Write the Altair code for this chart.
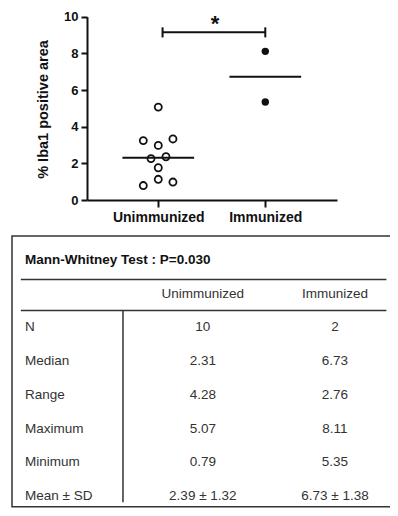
import altair as alt
import pandas as pd

# ---------------- data ----------------
groups = ["Unimmunized", "Immunized"]
unimm_values = [5.07, 3.24, 2.98, 3.33, 2.26, 2.36, 1.76, 1.13, 0.79, 0.98]
unimm_offsets = [0.0, -0.14, 0.0, 0.137, -0.068, 0.072, 0.0, 0.0, -0.14, 0.137]
imm_values = [8.11, 5.35]
imm_offsets = [0.0, 0.0]
medians = [2.31, 6.73]
y_ticks = [0, 2, 4, 6, 8, 10]
y_title = "% Iba1 positive area"
sig_label = "*"
sig_level = 9.15

test_title = "Mann-Whitney Test : P=0.030"
row_labels = ["N", "Median", "Range", "Maximum", "Minimum", "Mean ± SD"]
unimm_stats = ["10", "2.31", "4.28", "5.07", "0.79", "2.39 ± 1.32"]
imm_stats = ["2", "6.73", "2.76", "8.11", "5.35", "6.73 ± 1.38"]

FONT = "Liberation Sans"
W, H = 382, 500

# ---------------- scatter part ----------------
pts = pd.DataFrame(
    [{"group": groups[0], "xpos": 1 + o, "value": v} for v, o in zip(unimm_values, unimm_offsets)]
    + [{"group": groups[1], "xpos": 2 + o, "value": v} for v, o in zip(imm_values, imm_offsets)]
)
med = pd.DataFrame({"group": groups, "x1": [1 - 0.335, 2 - 0.335],
                    "x2": [1 + 0.335, 2 + 0.335], "value": medians})
bracket = pd.DataFrame({"x1": [1.04], "x2": [2.0], "value": [sig_level]})
bracket_ends = pd.DataFrame({"xpos": [1.04, 2.0], "y1": [sig_level - 0.28] * 2,
                             "y2": [sig_level + 0.27] * 2})
star = pd.DataFrame({"xpos": [1.53], "value": [sig_level], "label": [sig_label]})

X0, X1 = 79, 329          # plot-area pixel extent of the dot plot
Y0, Y1 = 192, 8.7
xscale = alt.Scale(domain=[0.334, 2.67], range=[X0, X1], nice=False, zero=False)
yscale = alt.Scale(domain=[0, 10], range=[Y0, Y1], nice=False, zero=False)

label_expr = f"datum.value == 1 ? '{groups[0]}' : (datum.value == 2 ? '{groups[1]}' : '')"

x_axis = alt.Axis(values=[1, 2], labelExpr=label_expr, title=None, grid=False,
                  labelFont=FONT, labelFontSize=14, labelFontWeight="bold", labelColor="#111",
                  labelPadding=3, tickSize=7, tickWidth=2, tickColor="#111",
                  domainWidth=2, domainColor="#111", offset=-(H - Y0), orient="bottom")
y_axis = alt.Axis(values=y_ticks, title=y_title, grid=False,
                  labelFont=FONT, labelFontSize=13, labelFontWeight="bold", labelColor="#111",
                  labelPadding=3, tickSize=6, tickWidth=2, tickColor="#111",
                  domainWidth=2, domainColor="#111", offset=-X0, orient="left",
                  titleFont=FONT, titleFontSize=14.5, titleFontWeight="bold", titleColor="#111",
                  titleX=-44, titleY=101, titleAngle=270, titleAlign="center",
                  titleBaseline="middle")

med_layer = alt.Chart(med).mark_rule(color="#111", strokeWidth=2).encode(
    x=alt.X("x1:Q", scale=xscale, axis=x_axis),
    x2="x2:Q",
    y=alt.Y("value:Q", scale=yscale, axis=y_axis),
)
open_layer = alt.Chart(pts).transform_filter(
    alt.datum.group == groups[0]
).mark_point(shape="circle", filled=False, color="#111", strokeWidth=1.8, size=50, opacity=1).encode(
    x="xpos:Q", y="value:Q"
)
filled_layer = alt.Chart(pts).transform_filter(
    alt.datum.group == groups[1]
).mark_circle(color="#111", size=55, opacity=1).encode(
    x="xpos:Q", y="value:Q"
)
bracket_layer = alt.Chart(bracket).mark_rule(color="#111", strokeWidth=2).encode(
    x="x1:Q", x2="x2:Q", y="value:Q"
)
bracket_end_layer = alt.Chart(bracket_ends).mark_rule(color="#111", strokeWidth=2).encode(
    x="xpos:Q", y="y1:Q", y2="y2:Q"
)
star_layer = alt.Chart(star).mark_text(font=FONT, fontSize=22, fontWeight="bold", color="#111",
                                       baseline="alphabetic", dy=-1).encode(
    x="xpos:Q", y="value:Q", text="label:N"
)

scatter = alt.layer(med_layer, open_layer, filled_layer, bracket_layer,
                    bracket_end_layer, star_layer)

# ---------------- table part ----------------
COL_LABEL, COL_U, COL_I = 0.034, 0.497, 0.841
cells = [{"text": test_title, "row": 0, "col": COL_LABEL, "kind": "title"},
         {"text": groups[0], "row": 1, "col": COL_U, "kind": "value"},
         {"text": groups[1], "row": 1, "col": COL_I, "kind": "value"}]
for i, (lab, u, m) in enumerate(zip(row_labels, unimm_stats, imm_stats)):
    r = i + 2
    cells.append({"text": lab, "row": r, "col": COL_LABEL, "kind": "label"})
    cells.append({"text": u, "row": r, "col": COL_U, "kind": "value"})
    cells.append({"text": m, "row": r, "col": COL_I, "kind": "value"})
cells = pd.DataFrame(cells)

n_rows = len(row_labels) + 2
tx = alt.Scale(domain=[0, 1], range=[4, 388], nice=False, zero=False)
ty = alt.Scale(domain=[0, n_rows - 1], range=[252, 487.9], nice=False, zero=False)

box = pd.DataFrame({"c1": [0], "c2": [0.9935], "r1": [-0.71], "r2": [n_rows - 1 + 0.325]})
hlines = pd.DataFrame({"c1": [0.023, 0.023], "c2": [0.975, 0.975], "r": [0.58, 1.5]})
vline = pd.DataFrame({"c": [0.289], "r1": [1.5], "r2": [n_rows - 1 + 0.19]})

box_layer = alt.Chart(box).mark_rect(fill="white", stroke="#333", strokeWidth=1.5).encode(
    x=alt.X("c1:Q", scale=tx, axis=None), x2="c2:Q",
    y=alt.Y("r1:Q", scale=ty, axis=None), y2="r2:Q",
)
hline_layer = alt.Chart(hlines).mark_rule(color="#333", strokeWidth=1.5).encode(
    x="c1:Q", x2="c2:Q", y="r:Q"
)
vline_layer = alt.Chart(vline).mark_rule(color="#333", strokeWidth=1.5).encode(
    x="c:Q", y="r1:Q", y2="r2:Q"
)
title_layer = alt.Chart(cells).transform_filter(alt.datum.kind == "title").mark_text(
    font=FONT, fontSize=13.5, fontWeight="bold", color="#111", align="left", baseline="middle"
).encode(x="col:Q", y="row:Q", text="text:N")
label_layer = alt.Chart(cells).transform_filter(alt.datum.kind == "label").mark_text(
    font=FONT, fontSize=13.5, color="#333", align="left", baseline="middle"
).encode(x="col:Q", y="row:Q", text="text:N")
value_layer = alt.Chart(cells).transform_filter(alt.datum.kind == "value").mark_text(
    font=FONT, fontSize=13.5, color="#333", align="center", baseline="middle"
).encode(x="col:Q", y="row:Q", text="text:N")

table = alt.layer(box_layer, hline_layer, vline_layer, title_layer, label_layer, value_layer)

chart = alt.layer(scatter, table).resolve_scale(
    x="independent", y="independent"
).properties(
    width=W, height=H,
    autosize=alt.AutoSizeParams(type="none"),
    padding=0,
    background="white",
).configure_view(stroke=None)

chart.save("out.html", embed_options={"renderer": "svg", "actions": False})
